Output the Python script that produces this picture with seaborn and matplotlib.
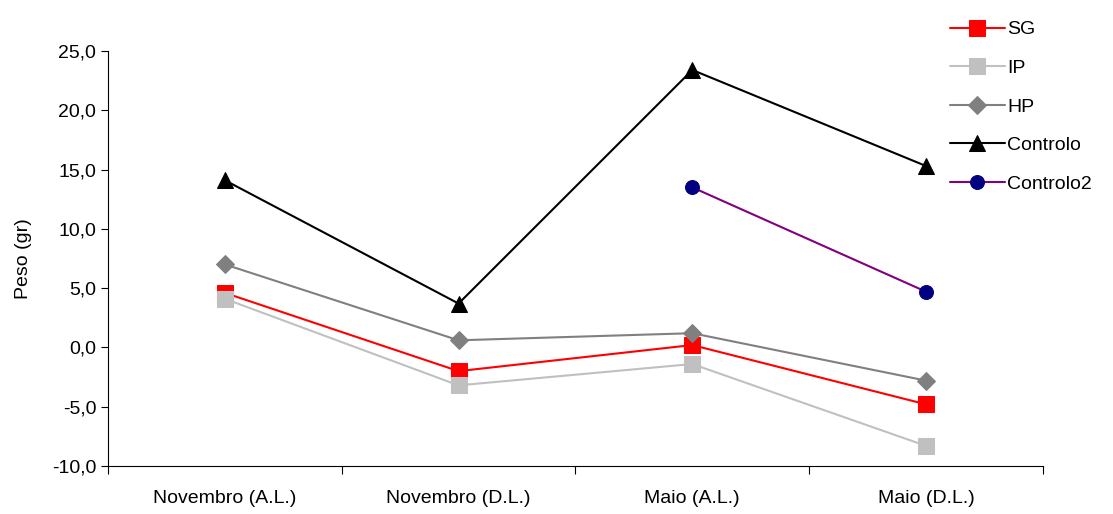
import matplotlib
matplotlib.use("Agg")
import matplotlib.pyplot as plt
import seaborn as sns
import numpy as np
import pandas as pd
from matplotlib.ticker import FixedLocator, FuncFormatter

categories = ["Novembro (A.L.)", "Novembro (D.L.)", "Maio (A.L.)", "Maio (D.L.)"]
sg = [4.6, -2.0, 0.2, -4.8]
ip = [4.1, -3.2, -1.4, -8.3]
hp = [7.0, 0.6, 1.2, -2.8]
controlo = [14.1, 3.7, 23.4, 15.3]
controlo2 = [np.nan, np.nan, 13.5, 4.7]

series = [
    ("SG", sg, "#ff0000", "#ff0000", "s", 11),
    ("IP", ip, "#c0c0c0", "#c0c0c0", "s", 11),
    ("HP", hp, "#808080", "#808080", "D", 9),
    ("Controlo", controlo, "#000000", "#000000", "^", 12),
    ("Controlo2", controlo2, "#800080", "#000080", "o", 10),
]

sns.set_theme(style="white")
plt.rcParams["font.family"] = ["Liberation Sans", "DejaVu Sans"]
plt.rcParams["text.color"] = "black"
plt.rcParams["axes.labelcolor"] = "black"
plt.rcParams["xtick.color"] = "black"
plt.rcParams["ytick.color"] = "black"

fig = plt.figure(figsize=(11.13, 5.14), dpi=100)
ax = fig.add_axes([0.097, 0.0934, 0.84, 0.8074])

for name, vals, lc, mc, mk, ms in series:
    df = pd.DataFrame({"x": np.arange(len(categories)), "y": vals}).dropna()
    sns.lineplot(data=df, x="x", y="y", ax=ax, color=lc, linewidth=1.5,
                 marker=mk, markersize=ms, markerfacecolor=mc,
                 markeredgecolor=mc, label=name)

ax.set_xlim(-0.5, len(categories) - 0.5)
ax.set_ylim(-10, 25)
ax.set_yticks(np.arange(-10, 26, 5))
ax.yaxis.set_major_formatter(FuncFormatter(lambda v, p: f"{v:.1f}".replace(".", ",")))
ax.xaxis.set_major_locator(FixedLocator(np.arange(-0.5, len(categories), 1.0)))
ax.xaxis.set_major_formatter(FuncFormatter(lambda v, p: ""))
ax.xaxis.set_minor_locator(FixedLocator(np.arange(len(categories))))
ax.set_xticklabels(categories, minor=True)
ax.tick_params(axis="x", which="major", direction="out", length=6, width=0.8, color="black", bottom=True)
ax.tick_params(axis="x", which="minor", length=0, pad=17, labelsize=14)
ax.tick_params(axis="y", direction="out", length=5, width=0.8, color="black", left=True, labelsize=14)
ax.set_xlabel("")
ax.set_ylabel("Peso (gr)", fontsize=14, labelpad=14)

for s in ["top", "right"]:
    ax.spines[s].set_visible(False)
for s in ["left", "bottom"]:
    ax.spines[s].set_color("black")
    ax.spines[s].set_linewidth(0.8)

leg = ax.legend(loc="upper left", bbox_to_anchor=(0.882, 1.115), frameon=False,
                fontsize=14, labelspacing=1.08, handlelength=2.8, handletextpad=0.15)

fig.savefig("out.png", dpi=100)
